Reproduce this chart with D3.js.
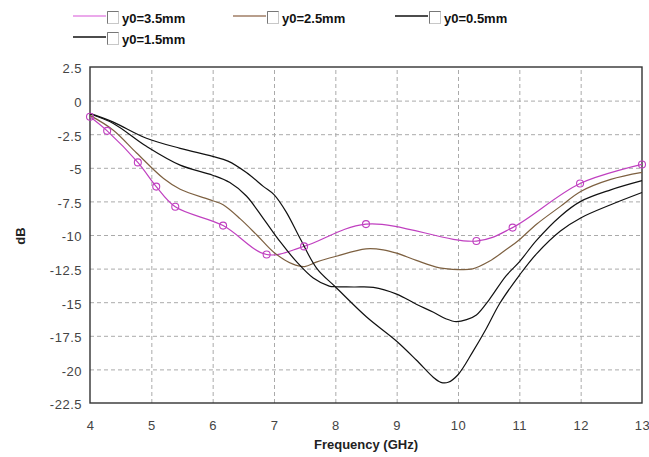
<!DOCTYPE html>
<html><head><meta charset="utf-8">
<script src="https://cdn.jsdelivr.net/npm/d3@7"></script>
<style>
body{margin:0;background:#fff}
svg{display:block;font-family:Arial,"Liberation Sans",sans-serif}
</style></head>
<body><svg id="c" width="649" height="457"></svg>
<script>
// ---- data ----
const seriesNames = ["y0=3.5mm", "y0=2.5mm", "y0=0.5mm", "y0=1.5mm"];
const seriesColors = ["#c040c0", "#7d6040", "#111111", "#111111"];
const legendLineColors = ["#e48ce4", "#a07e66", "#111111", "#111111"];

const freq35 = [4.0, 4.28, 4.78, 5.08, 5.39, 6.17, 6.88, 7.49, 8.5, 10.3, 10.89, 11.99, 13.0];
const db35   = [-1.2, -2.25, -4.6, -6.4, -7.9, -9.3, -11.45, -10.85, -9.19, -10.45, -9.45, -6.17, -4.75];

const freq25 = [4.0, 4.38, 4.76, 5.2, 5.47, 6.0, 6.17, 6.45, 6.72, 7.0, 7.3, 7.5, 7.7, 8.0, 8.5, 8.78, 9.0, 9.32, 9.7, 10.0, 10.24, 10.51, 10.78, 11.0, 11.28, 11.67, 12.0, 12.49, 13.0];
const db25   = [-1.1, -2.2, -3.9, -5.8, -6.6, -7.45, -7.75, -8.8, -10.0, -11.3, -12.15, -12.35, -12.0, -11.6, -11.03, -11.1, -11.35, -11.89, -12.45, -12.57, -12.52, -11.96, -11.1, -10.35, -9.2, -7.87, -6.76, -5.86, -5.34];

const freq05 = [4.0, 4.38, 4.92, 5.47, 6.0, 6.25, 6.55, 6.83, 7.0, 7.2, 7.43, 7.7, 8.0, 8.51, 9.0, 9.32, 9.6, 9.72, 9.84, 10.0, 10.24, 10.46, 10.68, 11.0, 11.28, 11.67, 12.0, 12.49, 13.0];
const db05   = [-0.95, -1.6, -2.8, -3.55, -4.15, -4.5, -5.35, -6.4, -7.0, -8.3, -10.3, -12.5, -13.85, -16.1, -17.9, -19.3, -20.6, -20.96, -20.96, -20.4, -18.7, -16.98, -15.1, -13.0, -11.4, -9.7, -8.73, -7.75, -6.84];

const freq15 = [4.0, 4.38, 4.92, 5.47, 6.0, 6.28, 6.55, 6.83, 7.1, 7.37, 7.64, 7.9, 8.0, 8.3, 8.62, 9.0, 9.32, 9.6, 9.81, 9.97, 10.14, 10.3, 10.51, 10.78, 11.0, 11.28, 11.67, 12.0, 12.49, 13.0];
const db15   = [-1.0, -1.7, -3.4, -4.8, -5.55, -6.1, -7.1, -8.8, -10.5, -12.0, -13.2, -13.8, -13.85, -13.87, -13.9, -14.4, -15.15, -15.75, -16.25, -16.45, -16.3, -15.95, -14.8, -13.06, -12.0, -10.4, -8.6, -7.5, -6.64, -5.96];

const xTicks = [4, 5, 6, 7, 8, 9, 10, 11, 12, 13];
const yTicks = [2.5, 0, -2.5, -5, -7.5, -10, -12.5, -15, -17.5, -20, -22.5];
const xTitle = "Frequency (GHz)";
const yTitle = "dB";

// ---- layout ----
const svg = d3.select("#c");
const L = 90, R = 642, T = 67, B = 403;
const x = d3.scaleLinear().domain([4, 13]).range([L, R]);
const y = d3.scaleLinear().domain([-22.5, 2.5]).range([B, T]);

// gridlines
const gx = svg.append("g").attr("transform", `translate(0,${B})`)
  .call(d3.axisBottom(x).tickValues(xTicks.slice(1, -1)).tickSize(-(B - T)).tickFormat(""));
const gy = svg.append("g").attr("transform", `translate(${L},0)`)
  .call(d3.axisLeft(y).tickValues(yTicks.slice(1, -1)).tickSize(-(R - L)).tickFormat(""));
[gx, gy].forEach(g => {
  g.select(".domain").remove();
  g.selectAll("line").attr("stroke", "#aaaaaa").attr("stroke-dasharray", "4,3").attr("stroke-width", 1);
});

// tick labels
const lx = svg.append("g").attr("transform", `translate(0,${B})`)
  .call(d3.axisBottom(x).tickValues(xTicks).tickSize(0).tickPadding(18).tickFormat(d3.format("d")));
const ly = svg.append("g").attr("transform", `translate(${L},0)`)
  .call(d3.axisLeft(y).tickValues(yTicks).tickSize(0).tickPadding(8).tickFormat(d => String(d)));
[lx, ly].forEach(g => {
  g.select(".domain").remove();
  g.selectAll("text").attr("font-size", 13).attr("fill", "#444").attr("font-family", "Arial, 'Liberation Sans', sans-serif")
    .style("letter-spacing", "0.5px");
});
ly.selectAll("text").attr("dy", "0.45em");

// border
svg.append("rect").attr("x", L).attr("y", T).attr("width", R - L).attr("height", B - T)
  .attr("fill", "none").attr("stroke", "#333").attr("stroke-width", 1.4);

// series
const series = [
  {f: freq35, d: db35},
  {f: freq25, d: db25},
  {f: freq05, d: db05},
  {f: freq15, d: db15}
];
const line = d3.line().x(p => x(p[0])).y(p => y(p[1])).curve(d3.curveCatmullRom.alpha(0.5));
series.forEach((s, i) => {
  const pts = s.f.map((f, k) => [f, s.d[k]]);
  svg.append("path").datum(pts).attr("d", line)
    .attr("fill", "none").attr("stroke", seriesColors[i]).attr("stroke-width", 1.2);
});
// markers on first series
svg.append("g").selectAll("circle").data(freq35.map((f, k) => [f, db35[k]])).join("circle")
  .attr("cx", p => x(p[0])).attr("cy", p => y(p[1])).attr("r", 3.5)
  .attr("fill", "none").attr("stroke", seriesColors[0]).attr("stroke-width", 1.1);

// axis titles
svg.append("text").attr("x", (L + R) / 2).attr("y", 449).attr("text-anchor", "middle")
  .attr("font-size", 13).attr("font-weight", "bold").attr("fill", "#222").text(xTitle);
svg.append("text").attr("transform", "translate(25,236) rotate(-90)").attr("text-anchor", "middle")
  .attr("font-size", 13).attr("font-weight", "bold").attr("fill", "#222").text(yTitle);

// legend
const legX = [73, 233, 395, 73];
const legRow = [0, 0, 0, 1];
seriesNames.forEach((name, i) => {
  const gx0 = legX[i], gy0 = 16 + legRow[i] * 21;
  const g = svg.append("g");
  g.append("line").attr("x1", gx0).attr("x2", gx0 + 33).attr("y1", gy0).attr("y2", gy0)
    .attr("stroke", legendLineColors[i]).attr("stroke-width", 1.3);
  g.append("rect").attr("x", gx0 + 34.5).attr("y", gy0 - 4.5).attr("width", 11).attr("height", 12)
    .attr("fill", "#fff").attr("stroke", "#c8c8c8").attr("stroke-width", 1);
  g.append("path").attr("d", `M${gx0 + 34.5},${gy0 + 7.5}V${gy0 - 4.5}H${gx0 + 45.5}`)
    .attr("fill", "none").attr("stroke", "#777").attr("stroke-width", 1);
  g.append("text").attr("x", gx0 + 49).attr("y", gy0 + 6.5).attr("font-size", 13)
    .attr("font-weight", "bold").attr("fill", "#111").text(name);
});
</script></body></html>
